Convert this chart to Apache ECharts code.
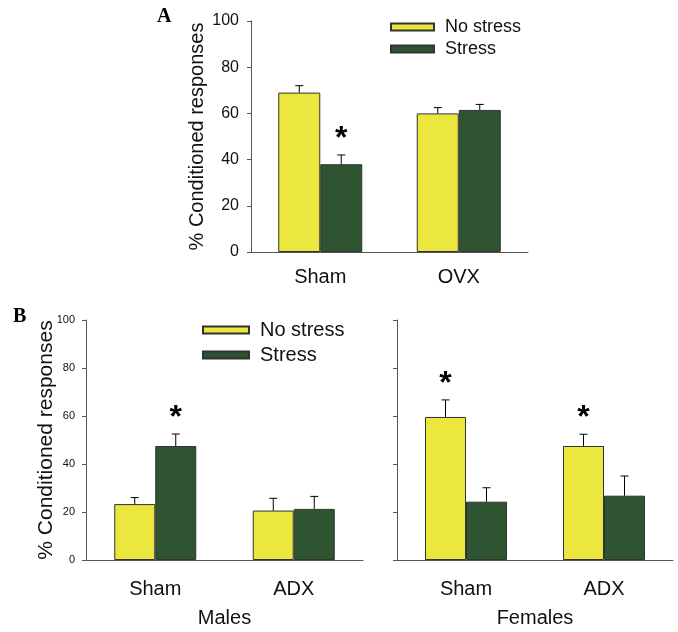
<!DOCTYPE html>
<html>
<head>
<meta charset="utf-8">
<script src="https://cdn.jsdelivr.net/npm/echarts@6/dist/echarts.min.js"></script>
<style>html,body{margin:0;padding:0;background:#fff}#c{width:678px;height:632px}</style>
</head>
<body>
<div id="c"></div>
<script>
// ---- Data ----
const categoriesA = ['Sham', 'OVX'];
const noStressA = [69, 60];
const noStressASem = [3, 2.5];
const stressA = [38, 61.5];
const stressASem = [4, 2.4];
const sigNoStressA = [0, 0];
const sigStressA = [1, 0];

const categoriesB = ['Sham', 'ADX'];
const malesNoStress = [23.3, 20.6];
const malesNoStressSem = [2.7, 5.1];
const malesStress = [47.5, 21.3];
const malesStressSem = [5, 5.2];
const sigMalesNoStress = [0, 0];
const sigMalesStress = [1, 0];

const femalesNoStress = [59.6, 47.5];
const femalesNoStressSem = [7.1, 4.9];
const femalesStress = [24.3, 26.8];
const femalesStressSem = [5.8, 8.2];
const sigFemalesNoStress = [1, 1];
const sigFemalesStress = [0, 0];

const yTicks = [0, 20, 40, 60, 80, 100];
const seriesNames = ['No stress', 'Stress'];
const yAxisTitle = '% Conditioned responses';

// ---- Styles ----
const YELLOW = '#ebe73e', GREEN = '#2e5431';
const FONT = '"Liberation Sans", Arial, sans-serif';
const AXIS_COLOR = '#555';

function errData(vals, sems, sigs, side) {
  return vals.map((v, i) => [i, v, v + sems[i], side, sigs[i]]);
}
function makeRender(half) {
  return function (params, api) {
    const cat = api.value(0), val = api.value(1), top = api.value(2), side = api.value(3), sig = api.value(4);
    const b = api.coord([cat, val]);
    const t = api.coord([cat, top]);
    const x = b[0] + side * half;
    const children = [
      { type: 'line', shape: { x1: x, y1: b[1], x2: x, y2: t[1] }, style: { stroke: '#000', lineWidth: 1 } },
      { type: 'line', shape: { x1: x - 4, y1: t[1], x2: x + 4, y2: t[1] }, style: { stroke: '#000', lineWidth: 1 } }
    ];
    if (sig) {
      children.push({ type: 'text', style: { text: '*', x: x, y: t[1] - 16, align: 'center', verticalAlign: 'middle', font: 'bold 32px ' + FONT, fill: '#000' } });
    }
    return { type: 'group', children };
  };
}

function xAxisCfg(gridIndex, cats, labelMargin, name) {
  return {
    type: 'category', gridIndex, data: cats,
    axisLine: { lineStyle: { color: AXIS_COLOR, width: 1 } },
    axisTick: { alignWithLabel: true, length: 4, lineStyle: { color: AXIS_COLOR } },
    axisLabel: { margin: labelMargin, fontSize: 20, fontFamily: FONT, color: '#111' },
    name: name || '', nameLocation: 'middle', nameGap: 48,
    nameTextStyle: { fontSize: 20, fontFamily: FONT, color: '#111' }
  };
}
function yAxisCfg(gridIndex, showLabels, labelSize, labelMargin, name, nameGap, nameSize, moveOverlap) {
  return {
    type: 'value', gridIndex, min: 0, max: 100, interval: 20,
    splitLine: { show: false },
    axisLine: { show: true, lineStyle: { color: AXIS_COLOR, width: 1 } },
    axisTick: { show: true, length: 4, lineStyle: { color: AXIS_COLOR } },
    axisLabel: { show: showLabels, margin: labelMargin, fontSize: labelSize, fontFamily: FONT, color: '#111' },
    name: name || '', nameLocation: 'middle', nameGap: nameGap || 0, nameMoveOverlap: moveOverlap,
    nameTextStyle: { fontSize: nameSize || 20, fontFamily: FONT, color: '#111' }
  };
}
function barSeries(name, color, idx, data, width) {
  return {
    name, type: 'bar', xAxisIndex: idx, yAxisIndex: idx, data,
    barWidth: width, barGap: '0%',
    itemStyle: { color, borderColor: '#333', borderWidth: 1 }
  };
}
function errSeries(idx, d, half) {
  return {
    type: 'custom', xAxisIndex: idx, yAxisIndex: idx, data: d, z: 5,
    renderItem: makeRender(half), silent: true
  };
}

const option = {
  animation: false,
  backgroundColor: '#fff',
  title: [
    { text: 'A', left: 157, top: 7, padding: 0, textStyle: { fontFamily: '"Liberation Serif", serif', fontWeight: 'bold', fontSize: 20, color: '#000' } },
    { text: 'B', left: 13, top: 307, padding: 0, textStyle: { fontFamily: '"Liberation Serif", serif', fontWeight: 'bold', fontSize: 20, color: '#000' } }
  ],
  legend: [
    { data: seriesNames, orient: 'vertical', left: 390, top: 18, itemWidth: 43, itemHeight: 7, itemGap: 4, padding: 0, icon: 'rect',
      textStyle: { fontSize: 18, lineHeight: 18, fontFamily: FONT, color: '#111', padding: [0, 0, 0, 6] } },
    { data: seriesNames, orient: 'vertical', left: 202, top: 320, itemWidth: 46, itemHeight: 7, itemGap: 5, padding: 0, icon: 'rect',
      textStyle: { fontSize: 20, lineHeight: 20, fontFamily: FONT, color: '#111', padding: [0, 0, 0, 6] } }
  ],
  grid: [
    { left: 251, right: 150, top: 21, bottom: 380 },
    { left: 86, right: 315, top: 320, bottom: 72 },
    { left: 397, right: 5, top: 320, bottom: 72 }
  ],
  xAxis: [
    xAxisCfg(0, categoriesA, 15),
    xAxisCfg(1, categoriesB, 19, 'Males'),
    xAxisCfg(2, categoriesB, 19, 'Females')
  ],
  yAxis: [
    yAxisCfg(0, true, 16, 12, yAxisTitle, 44, 20, true),
    yAxisCfg(1, true, 11, 11, yAxisTitle, 29, 21, false),
    yAxisCfg(2, false, 11, 11)
  ],
  series: [
    barSeries('No stress', YELLOW, 0, noStressA, 42),
    barSeries('Stress', GREEN, 0, stressA, 42),
    errSeries(0, errData(noStressA, noStressASem, sigNoStressA, -1).concat(errData(stressA, stressASem, sigStressA, 1)), 21),
    barSeries('No stress', YELLOW, 1, malesNoStress, 41),
    barSeries('Stress', GREEN, 1, malesStress, 41),
    errSeries(1, errData(malesNoStress, malesNoStressSem, sigMalesNoStress, -1).concat(errData(malesStress, malesStressSem, sigMalesStress, 1)), 20.5),
    barSeries('No stress', YELLOW, 2, femalesNoStress, 41),
    barSeries('Stress', GREEN, 2, femalesStress, 41),
    errSeries(2, errData(femalesNoStress, femalesNoStressSem, sigFemalesNoStress, -1).concat(errData(femalesStress, femalesStressSem, sigFemalesStress, 1)), 20.5)
  ]
};
const chart = echarts.init(document.getElementById('c'), null, { renderer: 'canvas' });
chart.setOption(option);
</script>
</body>
</html>
